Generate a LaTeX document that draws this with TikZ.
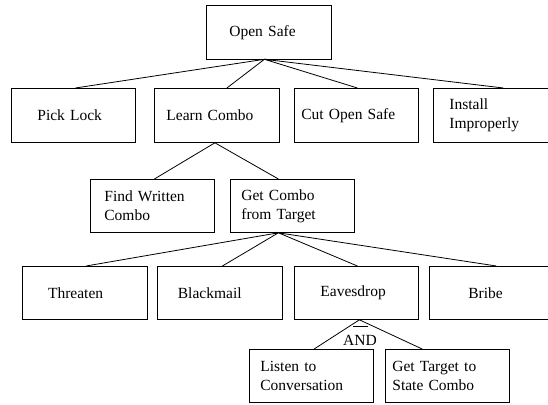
\documentclass[tikz,border=0pt]{standalone}
\usepackage{fontspec}
\setmainfont{Liberation Serif}
\usetikzlibrary{calc}
\tikzset{
  box/.style args={#1/#2/#3}{draw, line width=0.8pt, anchor=north west, minimum height=#3,
    inner ysep=0pt, inner xsep=#2, text width=#1-2*#2, align=left,
    font=\fontsize{15.5}{19}\selectfont},
  conn/.style={line width=0.8pt}
}
\begin{document}
\begin{tikzpicture}[x=1pt,y=-1pt]
\useasboundingbox (0,0) rectangle (548,404);
\node[box={125pt/23pt/53pt}] (os) at (206,5.5) {Open Safe};
\node[box={124.5pt/26.5pt/54pt}] (pl) at (10.5,88) {Pick Lock};
\node[box={125pt/12pt/54pt}] (lc) at (154,88) {Learn Combo};
\node[box={124pt/7pt/54pt}] (co) at (294,88) {Cut Open Safe};
\node[box={124pt/16pt/54pt}] (ii) at (433,88) {Install\\Improperly};
\node[box={124pt/14pt/53pt}] (fw) at (90,179) {Find Written\\Combo};
\node[box={124pt/11pt/53pt}] (gc) at (230,179) {Get Combo\\from Target};
\node[box={125pt/26pt/53pt}] (th) at (21.7,266) {Threaten};
\node[box={125pt/20.5pt/53pt}] (bm) at (157,266) {Blackmail};
\node[box={124pt/26pt/53pt}] (ev) at (294,266) {Eavesdrop};
\node[box={124pt/39pt/53pt}] (br) at (429,266) {Bribe};
\node[box={124.5pt/11.5pt/53pt}] (li) at (248.5,349) {Listen to\\Conversation};
\node[box={124.5pt/7.5pt/53pt}] (gt) at (384.5,349) {Get Target to\\State Combo};
% connectors
\draw[conn] ([xshift=2.25pt]pl.north) -- ([xshift=-4.5pt]os.south) -- ([xshift=10pt]lc.north);
\draw[conn] ([xshift=1pt]co.north) -- ([xshift=-4.5pt]os.south) -- ([xshift=8pt]ii.north);
\draw[conn] ([xshift=2pt]fw.north) -- ([xshift=-2pt]lc.south) -- ([xshift=-14pt]gc.north);
\draw[conn] ([xshift=1.5pt]th.north) -- ([xshift=-14pt]gc.south) -- ([xshift=2.5pt]bm.north);
\draw[conn] ([xshift=1pt]ev.north) -- ([xshift=-14pt]gc.south) -- ([xshift=5pt]br.north);
\draw[conn] ([xshift=3pt]li.north) -- ([xshift=3pt]ev.south) -- ([xshift=-25pt]gt.north);
% AND gate
\node[font=\fontsize{15.5}{19}\selectfont, anchor=base, inner sep=0pt] (and) at (360,345) {AND};
\draw[conn] ($(ev.south)+(-3,6.5)$) -- ($(ev.south)+(12,6.5)$);
\end{tikzpicture}
\end{document}
